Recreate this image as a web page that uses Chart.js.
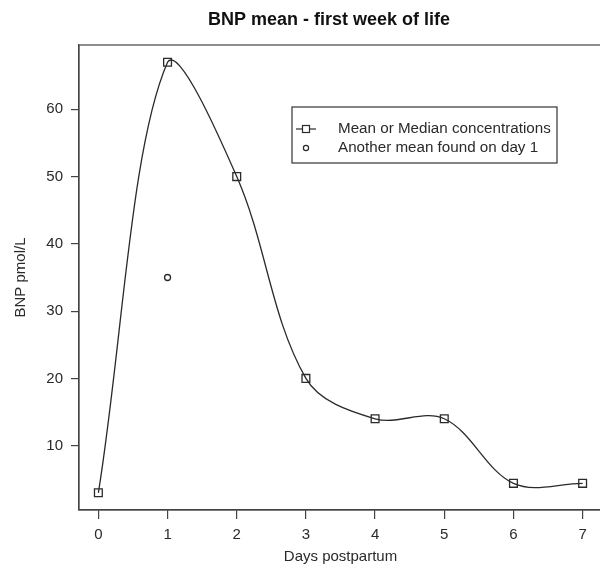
<!DOCTYPE html>
<html>
<head>
<meta charset="utf-8">
<script src="https://cdn.jsdelivr.net/npm/chart.js@4.4.0/dist/chart.umd.min.js"></script>
<style>
html,body{margin:0;padding:0;overflow:hidden;background:#fff;}
canvas{display:block;}
</style>
</head>
<body>
<canvas id="c" width="602" height="566" style="width:602px;height:566px"></canvas>
<script>
// ---- data ----
const days = [0, 1, 2, 3, 4, 5, 6, 7];
const bnpMean = [3, 67, 50, 20, 14, 14, 4.4, 4.4];
const otherDay = [1];
const otherMean = [35];
const xTicks = [0, 1, 2, 3, 4, 5, 6, 7];
const yTicks = [10, 20, 30, 40, 50, 60];
const chartTitle = 'BNP mean - first week of life';
const xTitle = 'Days postpartum';
const yTitle = 'BNP pmol/L';
const legendLabels = ['Mean or Median concentrations', 'Another mean found on day 1'];

const FONT = "'Liberation Sans', Arial, sans-serif";
const INK = '#2a2a2a';
const AXIS = '#444';

const boxAndLegend = {
  id: 'boxAndLegend',
  afterDraw(chart) {
    const ctx = chart.ctx;
    const a = chart.chartArea;
    ctx.save();
    // plot box
    ctx.strokeStyle = AXIS;
    ctx.lineWidth = 1.2;
    ctx.strokeRect(a.left, a.top, a.right - a.left, a.bottom - a.top);
    // title
    ctx.fillStyle = '#111';
    ctx.font = "bold 18px " + FONT;
    ctx.textAlign = 'center';
    ctx.textBaseline = 'middle';
    ctx.fillText(chartTitle, 329, 20);
    // legend
    const lx = 292, ly = 107, lw = 265, lh = 56;
    ctx.fillStyle = '#fff';
    ctx.fillRect(lx, ly, lw, lh);
    ctx.strokeStyle = '#333';
    ctx.lineWidth = 1.2;
    ctx.strokeRect(lx, ly, lw, lh);
    const r1 = 129, r2 = 148;
    ctx.strokeStyle = INK;
    ctx.lineWidth = 1.2;
    ctx.beginPath();
    ctx.moveTo(296, r1); ctx.lineTo(316, r1); ctx.stroke();
    ctx.fillStyle = '#fff';
    ctx.fillRect(302.5, r1 - 3.5, 7, 7);
    ctx.strokeRect(302.5, r1 - 3.5, 7, 7);
    ctx.beginPath();
    ctx.arc(306, r2, 2.6, 0, Math.PI * 2);
    ctx.stroke();
    ctx.fillStyle = INK;
    ctx.font = "15.2px " + FONT;
    ctx.textAlign = 'left';
    ctx.fillText(legendLabels[0], 338, r1);
    ctx.fillText(legendLabels[1], 338, r2);
    ctx.restore();
  }
};

new Chart(document.getElementById('c'), {
  type: 'scatter',
  data: {
    datasets: [
      {
        label: legendLabels[0],
        data: days.map((d, i) => ({x: d, y: bnpMean[i]})),
        showLine: true,
        tension: 0.35,
        borderColor: INK,
        borderWidth: 1.3,
        pointStyle: 'rect',
        pointRadius: 5.5,
        pointHoverRadius: 5.5,
        pointBorderWidth: 1.3,
        pointBorderColor: INK,
        pointBackgroundColor: 'rgba(0,0,0,0)'
      },
      {
        label: legendLabels[1],
        data: otherDay.map((d, i) => ({x: d, y: otherMean[i]})),
        showLine: false,
        pointStyle: 'circle',
        pointRadius: 3,
        pointBorderWidth: 1.3,
        pointBorderColor: INK,
        pointBackgroundColor: 'rgba(0,0,0,0)'
      }
    ]
  },
  options: {
    responsive: false,
    animation: false,
    devicePixelRatio: 1,
    layout: {autoPadding: false, padding: {top: 45, right: 0, left: 0, bottom: 0}},
    plugins: {legend: {display: false}, title: {display: false}, tooltip: {enabled: false}},
    scales: {
      x: {
        type: 'linear',
        min: -0.28,
        max: 7.28,
        afterBuildTicks: s => { s.ticks = xTicks.map(v => ({value: v})); },
        afterFit: s => { s.height = 56; s.paddingLeft = 0; s.paddingRight = 0; },
        grid: {drawOnChartArea: false, drawTicks: true, tickLength: 9, color: AXIS, lineWidth: 1.2},
        border: {display: true, color: AXIS, width: 1.2},
        ticks: {font: {family: FONT, size: 15}, color: INK, padding: 7, maxRotation: 0},
        title: {display: true, text: xTitle, font: {family: FONT, size: 15}, color: INK, padding: {top: 0, bottom: 0}}
      },
      y: {
        type: 'linear',
        min: 0.44,
        max: 69.56,
        afterBuildTicks: s => { s.ticks = yTicks.map(v => ({value: v})); },
        afterFit: s => { s.width = 79; s.paddingTop = 0; s.paddingBottom = 0; },
        grid: {drawOnChartArea: false, drawTicks: true, tickLength: 8, color: AXIS, lineWidth: 1.2},
        border: {display: true, color: AXIS, width: 1.2},
        ticks: {font: {family: FONT, size: 15}, color: INK, padding: 8},
        title: {display: true, text: yTitle, font: {family: FONT, size: 15}, color: INK, padding: {top: 12, bottom: 0}}
      }
    }
  },
  plugins: [boxAndLegend]
});
</script>
</body>
</html>
